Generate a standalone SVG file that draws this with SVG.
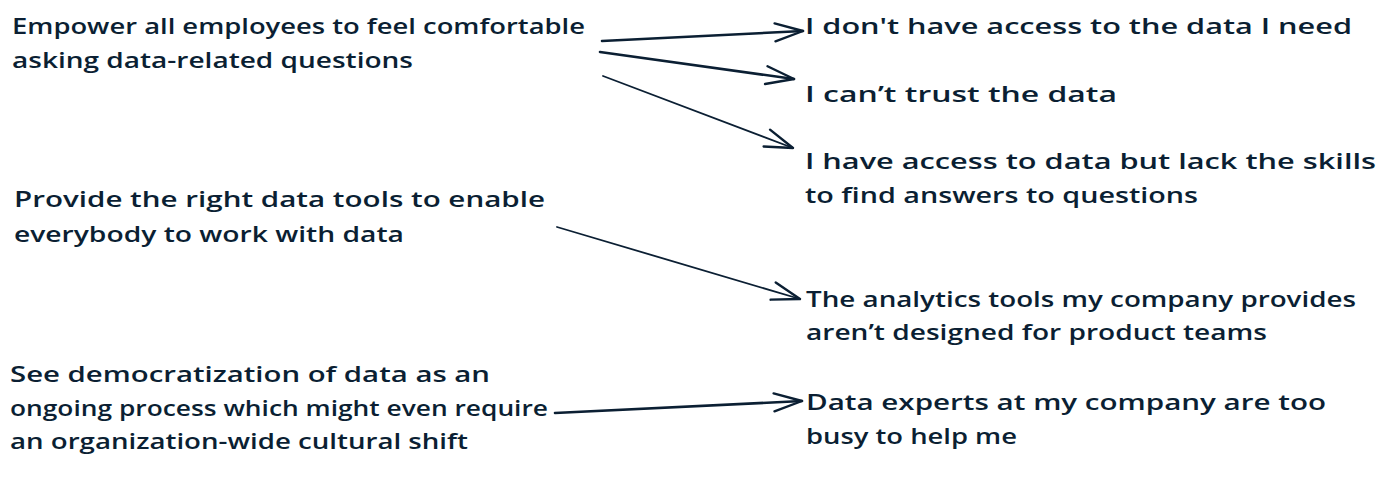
<svg xmlns="http://www.w3.org/2000/svg" width="1400" height="497" viewBox="0 0 1400 497">
<style>
  .t { font-family: "Open Sans", "Liberation Sans", sans-serif; font-size: 21px; font-weight: 600; fill: #0b1f33; }
  .a { fill: none; stroke: #0b1f33; stroke-linecap: round; stroke-linejoin: round; }
  .thick { stroke-width: 2.6; }
  .thin { stroke-width: 1.8; }
</style>
<defs>
  <marker id="head" markerUnits="userSpaceOnUse" markerWidth="40" markerHeight="40" refX="0" refY="0" viewBox="-35 -20 40 40" orient="auto" overflow="visible">
    <path d="M-28,-9 L0,0 L-28,9" fill="none" stroke="#0b1f33" stroke-width="2.4" stroke-linecap="round" stroke-linejoin="round"/>
  </marker>
</defs>
<rect width="1400" height="497" fill="#ffffff"/>

<g id="node-empower">
  <text class="t" x="12" y="34" textLength="573" lengthAdjust="spacingAndGlyphs">Empower all employees to feel comfortable</text>
  <text class="t" x="12" y="68" textLength="401" lengthAdjust="spacingAndGlyphs">asking data-related questions</text>
</g>
<g id="node-provide">
  <text class="t" x="14" y="207" textLength="531" lengthAdjust="spacingAndGlyphs">Provide the right data tools to enable</text>
  <text class="t" x="14" y="242" textLength="390" lengthAdjust="spacingAndGlyphs">everybody to work with data</text>
</g>
<g id="node-see">
  <text class="t" x="10" y="382" textLength="480" lengthAdjust="spacingAndGlyphs">See democratization of data as an</text>
  <text class="t" x="10" y="416" textLength="538" lengthAdjust="spacingAndGlyphs">ongoing process which might even require</text>
  <text class="t" x="10" y="449" textLength="458" lengthAdjust="spacingAndGlyphs">an organization-wide cultural shift</text>
</g>
<g id="node-access">
  <text class="t" x="805" y="34" textLength="547" lengthAdjust="spacingAndGlyphs">I don't have access to the data I need</text>
</g>
<g id="node-trust">
  <text class="t" x="805" y="102" textLength="312" lengthAdjust="spacingAndGlyphs">I can’t trust the data</text>
</g>
<g id="node-skills">
  <text class="t" x="805" y="169" textLength="571" lengthAdjust="spacingAndGlyphs">I have access to data but lack the skills</text>
  <text class="t" x="805" y="203" textLength="393" lengthAdjust="spacingAndGlyphs">to find answers to questions</text>
</g>
<g id="node-tools">
  <text class="t" x="806" y="307" textLength="550" lengthAdjust="spacingAndGlyphs">The analytics tools my company provides</text>
  <text class="t" x="806" y="340" textLength="461" lengthAdjust="spacingAndGlyphs">aren’t designed for product teams</text>
</g>
<g id="node-experts">
  <text class="t" x="806" y="410" textLength="520" lengthAdjust="spacingAndGlyphs">Data experts at my company are too</text>
  <text class="t" x="806" y="444" textLength="211" lengthAdjust="spacingAndGlyphs">busy to help me</text>
</g>

<g id="connectors">
  <path class="a thick" d="M602,41 L803,31" marker-end="url(#head)"/>
  <path class="a thick" d="M600,52 L794,79" marker-end="url(#head)"/>
  <path class="a thin" d="M603,76 L793,148" marker-end="url(#head)"/>
  <path class="a thin" d="M557,227 L800,299" marker-end="url(#head)"/>
  <path class="a thick" d="M555,413 L802,401" marker-end="url(#head)"/>
</g>
</svg>
